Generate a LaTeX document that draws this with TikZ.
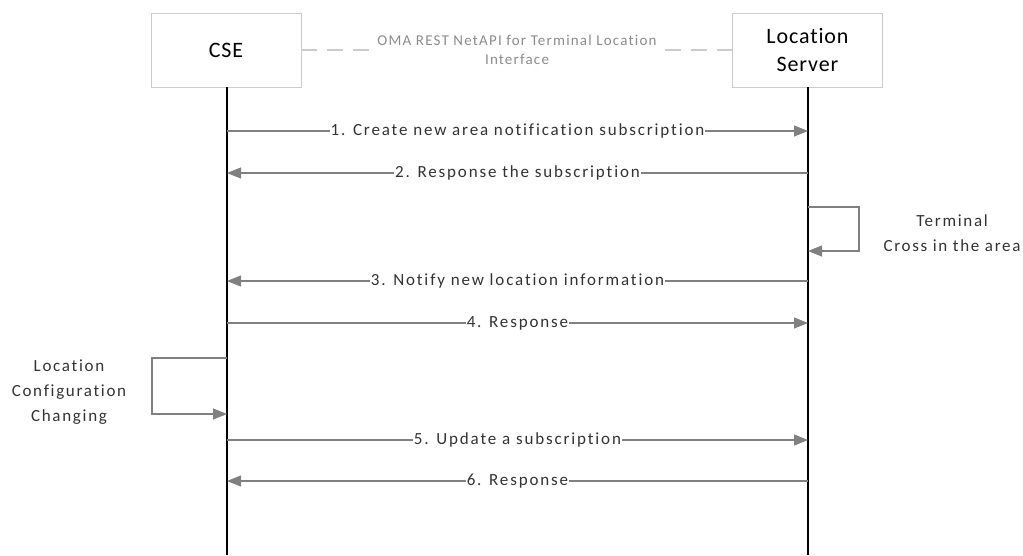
\documentclass[tikz,border=0pt]{standalone}
\usepackage{fontspec}
\setmainfont{Carlito}[Ligatures={NoCommon}]
\usetikzlibrary{arrows.meta}

\definecolor{boxgray}{RGB}{204,204,204}
\definecolor{arrgray}{RGB}{128,128,128}

\begin{document}
\begin{tikzpicture}[x=1pt,y=-1pt,
  entity/.style={draw=boxgray, thick, fill=white, minimum width=150pt, minimum height=74pt, align=center, font=\addfontfeatures{LetterSpace=4}\fontsize{22}{28}\selectfont},
  life/.style={line width=1.3pt},
  arr/.style={draw=arrgray, line width=1.1pt, -{Triangle[length=14pt,width=11pt]}, arrgray},
  msg/.style={fill=white, inner sep=1pt, text=black!80, font=\addfontfeatures{LetterSpace=11}\fontsize{17}{20}\selectfont},
  note/.style={align=center, text=black!80, font=\addfontfeatures{LetterSpace=10}\fontsize{17}{25}\selectfont}]
\useasboundingbox (0,0) rectangle (1023,555);
% lifelines
\coordinate (CSEend) at (227,555);
\coordinate (LSend) at (808,555);
\node[entity] (CSE) at (226,50) {CSE};
\node[entity] (LS) at (807.5,50) {Location\\Server};
\draw[life] (CSE.south) ++(1,0) coordinate (CSEtop) (CSEtop) -- (CSEend);
\draw[life] (LS.south) ++(0.5,0) coordinate (LStop) (LStop) -- (LSend);
% interface
\draw[boxgray, line width=1.3pt, dash pattern=on 16pt off 10pt] (CSE.east) -- (LS.east -| LS.west);
\node[fill=white, inner sep=1pt, align=center, text=black!45, font=\addfontfeatures{LetterSpace=8}\fontsize{15}{19}\selectfont] (Iface) at (517,50) {OMA REST NetAPI for Terminal Location\\Interface};
% messages
\foreach \name/\ya/\dir/\txt in {M1/131/r/1. Create new area notification subscription,
                                M2/173/l/2. Response the subscription,
                                M3/281/l/3. Notify new location information,
                                M4/323/r/4. Response,
                                M5/440/r/5. Update a subscription,
                                M6/481/l/6. Response}{
  \coordinate (\name a) at (227,\ya);
  \coordinate (\name b) at (808,\ya);
  \if\dir r
    \draw[arr] (\name a) -- node[msg] (\name) {\txt} (\name b);
  \else
    \draw[arr] (\name b) -- node[msg] (\name) {\txt} (\name a);
  \fi
}
% self loops
\coordinate (T1) at (808,207); \coordinate (T2) at (859,207);
\coordinate (T3) at (859,251); \coordinate (T4) at (808,251);
\draw[arr] (T1) -- (T2) -- (T3) -- (T4);
\node[note] (Cross) at (952,233) {Terminal\\Cross in the area};
\coordinate (C1) at (227,358); \coordinate (C2) at (152,358);
\coordinate (C3) at (152,414); \coordinate (C4) at (227,414);
\draw[arr] (C1) -- (C2) -- (C3) -- (C4);
\node[note] (Config) at (69,392) {Location\\Configuration\\Changing};
\end{tikzpicture}
\end{document}
